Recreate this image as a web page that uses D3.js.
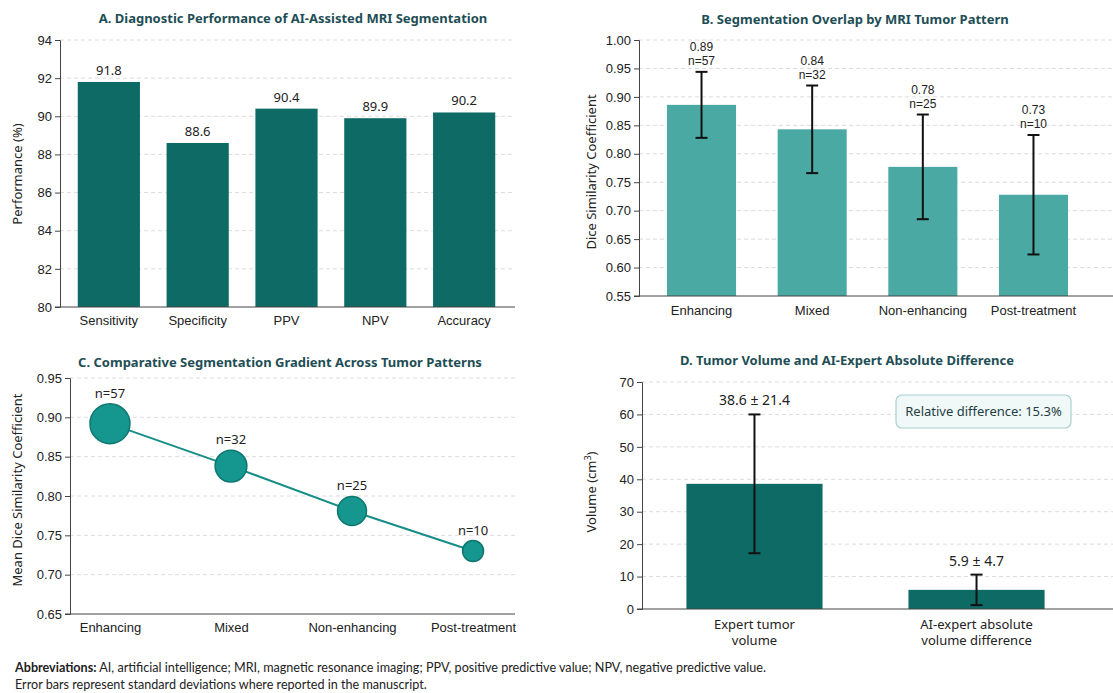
<!DOCTYPE html>
<html>
<head>
<meta charset="utf-8">
<script src="https://cdn.jsdelivr.net/npm/d3@7"></script>
<style>
  body { margin: 0; background: #fff; }
  svg { font-family: "Noto Sans", "Open Sans", sans-serif; }
  .grid line { stroke: #dcdcdc; stroke-dasharray: 4,3; }
  .axis path, .axis line { stroke: #444; }
  .axis text { fill: #222; font-size: 13px; }
  .title { fill: #1e4e55; font-weight: bold; font-size: 13px; text-anchor: middle; }
  .ylab { fill: #222; font-size: 13px; text-anchor: middle; }
</style>
</head>
<body>
<div id="chart"></div>
<script>
// A. diagnostic performance
var metrics = ['Sensitivity', 'Specificity', 'PPV', 'NPV', 'Accuracy'];
var perf = [91.8, 88.6, 90.4, 89.9, 90.2];
var perfTicks = [80, 82, 84, 86, 88, 90, 92, 94];

// B / C. tumor patterns
var patterns = ['Enhancing', 'Mixed', 'Non-enhancing', 'Post-treatment'];
var dice = [0.886, 0.843, 0.777, 0.728];
var diceSD = [0.058, 0.077, 0.092, 0.105];
var counts = [57, 32, 25, 10];
var diceTicks = [0.55, 0.60, 0.65, 0.70, 0.75, 0.80, 0.85, 0.90, 0.95, 1.00];
var meanDice = [0.892, 0.838, 0.781, 0.730];
var meanTicks = [0.65, 0.70, 0.75, 0.80, 0.85, 0.90, 0.95];

// D. volume
var volLabels = [['Expert tumor', 'volume'], ['AI-expert absolute', 'volume difference']];
var volMean = [38.6, 5.9];
var volSD = [21.4, 4.7];
var volTicks = [0, 10, 20, 30, 40, 50, 60, 70];
var relDiff = 15.3;

var W = 1113, H = 693;
var svg = d3.select('#chart').append('svg')
    .attr('width', W)
    .attr('height', H);

function grid(g, y, ticks, x0, x1) {
    g.append('g').attr('class', 'grid')
        .selectAll('line').data(ticks).enter().append('line')
        .attr('x1', x0).attr('x2', x1)
        .attr('y1', function(d) { return y(d); })
        .attr('y2', function(d) { return y(d); });
}

function errBar(g, x, yTop, yBot) {
    g.append('line').attr('x1', x).attr('x2', x).attr('y1', yTop).attr('y2', yBot)
        .attr('stroke', '#111').attr('stroke-width', 2);
    [yTop, yBot].forEach(function(yy) {
        g.append('line').attr('x1', x - 6).attr('x2', x + 6).attr('y1', yy).attr('y2', yy)
            .attr('stroke', '#111').attr('stroke-width', 2);
    });
}

// ---------- Panel A ----------
var gA = svg.append('g');
var xA = d3.scaleBand().domain(metrics).range([60, 513]).paddingInner(0.3).paddingOuter(0.2);
var yA = d3.scaleLinear().domain([80, 94]).range([307, 40]);
grid(gA, yA, perfTicks.slice(1), 60, 515);

gA.selectAll('.barA').data(perf).enter().append('rect')
    .attr('x', function(d, i) { return xA(metrics[i]); })
    .attr('y', function(d) { return yA(d); })
    .attr('width', xA.bandwidth())
    .attr('height', function(d) { return yA(80) - yA(d); })
    .attr('fill', '#0e6a65');

gA.selectAll('.lblA').data(perf).enter().append('text')
    .attr('x', function(d, i) { return xA(metrics[i]) + xA.bandwidth() / 2; })
    .attr('y', function(d) { return yA(d) - 7; })
    .attr('text-anchor', 'middle').attr('font-size', 13).attr('fill', '#222')
    .text(function(d) { return d.toFixed(1); });

gA.append('g').attr('class', 'axis').attr('transform', 'translate(60,0)')
    .call(d3.axisLeft(yA).tickValues(perfTicks).tickSize(5).tickFormat(d3.format('d')));
gA.append('g').attr('class', 'axis').attr('transform', 'translate(0,307)')
    .call(d3.axisBottom(xA).tickSize(0).tickPadding(9))
    .call(function(g) { g.select('.domain').attr('d', 'M55,0H515'); });

gA.append('text').attr('class', 'title').attr('x', 293).attr('y', 23)
    .text('A. Diagnostic Performance of AI-Assisted MRI Segmentation');
gA.append('text').attr('class', 'ylab').attr('transform', 'translate(22,174) rotate(-90)')
    .text('Performance (%)');

// ---------- Panel B ----------
var gB = svg.append('g');
var xB = d3.scaleBand().domain(patterns).range([639, 1096]).paddingInner(0.376).paddingOuter(0.253);
var yB = d3.scaleLinear().domain([0.55, 1.0]).range([296, 40]);
grid(gB, yB, diceTicks.slice(1), 639, 1113);

gB.selectAll('.barB').data(dice).enter().append('rect')
    .attr('x', function(d, i) { return xB(patterns[i]); })
    .attr('y', function(d) { return yB(d); })
    .attr('width', xB.bandwidth())
    .attr('height', function(d) { return yB(0.55) - yB(d); })
    .attr('fill', '#4aa9a2');

dice.forEach(function(d, i) {
    var cx = xB(patterns[i]) + xB.bandwidth() / 2;
    var top = yB(d + diceSD[i]);
    errBar(gB, cx, top, yB(d - diceSD[i]));
    [d.toFixed(2), 'n=' + counts[i]].forEach(function(t, k) {
        gB.append('text').attr('x', cx).attr('y', top - 21 + k * 14).attr('text-anchor', 'middle')
            .attr('font-family', '"Liberation Sans", Arial, sans-serif')
            .attr('font-size', 12).attr('fill', '#222').text(t);
    });
});

gB.append('g').attr('class', 'axis').attr('transform', 'translate(639,0)')
    .call(d3.axisLeft(yB).tickValues(diceTicks).tickSize(5).tickFormat(d3.format('.2f')));
gB.append('g').attr('class', 'axis').attr('transform', 'translate(0,296)')
    .call(d3.axisBottom(xB).tickSize(0).tickPadding(10))
    .call(function(g) { g.select('.domain').attr('d', 'M634,0H1113'); });

gB.append('text').attr('class', 'title').attr('x', 855).attr('y', 24)
    .text('B. Segmentation Overlap by MRI Tumor Pattern');
gB.append('text').attr('class', 'ylab').attr('transform', 'translate(596,172) rotate(-90)')
    .text('Dice Similarity Coefficient');

// ---------- Panel C ----------
var gC = svg.append('g');
var xC = d3.scalePoint().domain(patterns).range([70, 513]).padding(0.33);
var yC = d3.scaleLinear().domain([0.65, 0.95]).range([614, 378]);
var rC = d3.scaleSqrt().domain([10, 57]).range([10.5, 20]);
grid(gC, yC, meanTicks.slice(1), 70, 515);

gC.append('path')
    .datum(meanDice)
    .attr('fill', 'none').attr('stroke', '#168d85').attr('stroke-width', 2)
    .attr('d', d3.line()
        .x(function(d, i) { return xC(patterns[i]); })
        .y(function(d) { return yC(d); }));

gC.selectAll('.dotC').data(meanDice).enter().append('circle')
    .attr('cx', function(d, i) { return xC(patterns[i]); })
    .attr('cy', function(d) { return yC(d); })
    .attr('r', function(d, i) { return rC(counts[i]); })
    .attr('fill', '#15968e').attr('stroke', '#0e7770').attr('stroke-width', 1.5);

gC.selectAll('.lblC').data(meanDice).enter().append('text')
    .attr('x', function(d, i) { return xC(patterns[i]); })
    .attr('y', function(d, i) { return yC(d) - rC(counts[i]) - 6; })
    .attr('text-anchor', 'middle').attr('font-size', 13).attr('fill', '#222')
    .text(function(d, i) { return 'n=' + counts[i]; });

gC.append('g').attr('class', 'axis').attr('transform', 'translate(70,0)')
    .call(d3.axisLeft(yC).tickValues(meanTicks).tickSize(5).tickFormat(d3.format('.2f')));
gC.append('g').attr('class', 'axis').attr('transform', 'translate(0,614)')
    .call(d3.axisBottom(xC).tickSize(0).tickPadding(9))
    .call(function(g) { g.select('.domain').attr('d', 'M65,0H515'); });

gC.append('text').attr('class', 'title').attr('x', 280).attr('y', 367)
    .text('C. Comparative Segmentation Gradient Across Tumor Patterns');
gC.append('text').attr('class', 'ylab').attr('transform', 'translate(22,490) rotate(-90)')
    .text('Mean Dice Similarity Coefficient');

// ---------- Panel D ----------
var gD = svg.append('g');
var xD = d3.scaleBand().domain([0, 1]).range([642, 1089]).paddingInner(0.387).paddingOuter(0.2);
var yD = d3.scaleLinear().domain([0, 70]).range([609, 382]);
grid(gD, yD, volTicks.slice(1), 642, 1113);

gD.selectAll('.barD').data(volMean).enter().append('rect')
    .attr('x', function(d, i) { return xD(i); })
    .attr('y', function(d) { return yD(d); })
    .attr('width', xD.bandwidth())
    .attr('height', function(d) { return yD(0) - yD(d); })
    .attr('fill', '#0e6a65');

volMean.forEach(function(d, i) {
    var cx = xD(i) + xD.bandwidth() / 2;
    var top = yD(d + volSD[i]);
    errBar(gD, cx, top, yD(d - volSD[i]));
    gD.append('text').attr('x', cx).attr('y', top - 9).attr('text-anchor', 'middle')
        .attr('font-size', 14).attr('fill', '#222')
        .text(d.toFixed(1) + ' \u00b1 ' + volSD[i].toFixed(1));
    var xl = gD.append('text').attr('x', cx).attr('y', 629).attr('text-anchor', 'middle')
        .attr('font-size', 13).attr('fill', '#222');
    volLabels[i].forEach(function(t, k) {
        xl.append('tspan').attr('x', cx).attr('dy', k ? 16 : 0).text(t);
    });
});

gD.append('g').attr('class', 'axis').attr('transform', 'translate(642,0)')
    .call(d3.axisLeft(yD).tickValues(volTicks).tickSize(5));
gD.append('line').attr('x1', 637).attr('x2', 1113).attr('y1', 609).attr('y2', 609).attr('stroke', '#444');

gD.append('rect').attr('x', 896).attr('y', 395).attr('width', 175).attr('height', 33)
    .attr('rx', 6).attr('fill', '#f1f8f8').attr('stroke', '#a9d2ce').attr('stroke-width', 1.2);
gD.append('text').attr('x', 983.5).attr('y', 416).attr('text-anchor', 'middle')
    .attr('font-size', 13).attr('fill', '#1e3e44')
    .text('Relative difference: ' + relDiff.toFixed(1) + '%');

gD.append('text').attr('class', 'title').attr('x', 847).attr('y', 365)
    .text('D. Tumor Volume and AI-Expert Absolute Difference');
var yl = gD.append('text').attr('class', 'ylab').attr('transform', 'translate(596,492) rotate(-90)');
yl.append('tspan').text('Volume (cm');
yl.append('tspan').attr('font-size', 9).attr('dy', -5).text('3');
yl.append('tspan').attr('dy', 5).text(')');

// ---------- footer ----------
var f1 = svg.append('text').attr('x', 15).attr('y', 672).attr('font-size', 12.6)
    .attr('fill', '#222').attr('font-family', 'Lato, sans-serif');
f1.append('tspan').attr('font-weight', 'bold').text('Abbreviations:');
f1.append('tspan').text(' AI, artificial intelligence; MRI, magnetic resonance imaging; PPV, positive predictive value; NPV, negative predictive value.');
svg.append('text').attr('x', 15).attr('y', 689).attr('font-size', 12.6)
    .attr('fill', '#222').attr('font-family', 'Lato, sans-serif')
    .text('Error bars represent standard deviations where reported in the manuscript.');
</script>
</body>
</html>
